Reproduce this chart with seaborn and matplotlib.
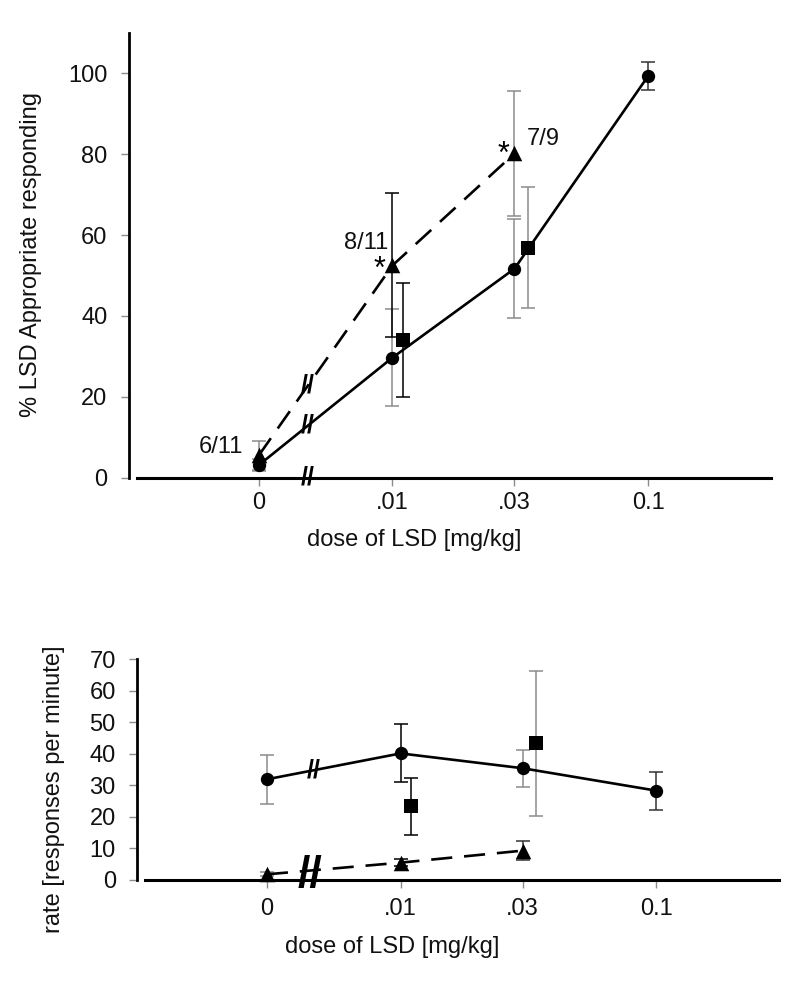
import numpy as np
import pandas as pd
import matplotlib
matplotlib.use("Agg")
import matplotlib.pyplot as plt
from matplotlib.ticker import NullLocator
import seaborn as sns

# ---------------- data ----------------
doses = [0, 0.01, 0.03, 0.1]
dose_labels = ["0", ".01", ".03", "0.1"]
tri_doses = [0, 0.01, 0.03]
sq_doses = [0.01, 0.03]

# top panel: % LSD appropriate responding
pct_circle = [3.1, 29.7, 51.7, 99.4]
pct_circle_err = [1.5, 12.0, 12.3, 3.5]
pct_tri = [5.5, 52.5, 80.2]
pct_tri_err = [3.7, 17.8, 15.5]
pct_sq = [34.1, 56.9]
pct_sq_err = [14.1, 15.0]
tri_labels = ["6/11", "8/11", "7/9"]
tri_stars = ["", "*", "*"]

# bottom panel: rate [responses per minute]
rate_circle = [31.9, 40.1, 35.4, 28.3]
rate_circle_err = [7.7, 9.2, 5.9, 6.0]
rate_tri = [1.8, 5.5, 9.3]
rate_tri_err = [0.6, 1.0, 3.0]
rate_sq = [23.4, 43.3]
rate_sq_err = [9.0, 23.0]

# ---------------- style ----------------
ZERO_POS = 0.003          # where dose 0 is drawn on the log axis
SQ_SHIFT = [1.10, 1.13]   # small horizontal offset of the square series
GRAY = "#8c8c8c"
BLACK = "#000000"

sns.set_style("white")
plt.rcParams["font.family"] = ["Liberation Sans", "DejaVu Sans"]
FS = 17


def xpos(d):
    return ZERO_POS if d == 0 else d


def draw_series(ax, dd, vals, errs, ecolors, marker, s, line=None, shift=None):
    xs = [xpos(d) * (shift[i] if shift else 1.0) for i, d in enumerate(dd)]
    df = pd.DataFrame({"x": xs, "y": vals})
    for x, y, e, c in zip(xs, vals, errs, ecolors):
        ax.errorbar([x], [y], yerr=[e], fmt="none", ecolor=c, elinewidth=1.1,
                    capsize=4.7, capthick=1.1, zorder=2, clip_on=False)
    if line is not None:
        sns.lineplot(data=df, x="x", y="y", ax=ax, color="black", lw=1.9,
                     estimator=None, sort=False, zorder=3)
        if line == "dashed":
            ax.lines[-1].set_linestyle((0, (8, 4.5)))
    sns.scatterplot(data=df, x="x", y="y", ax=ax, marker=marker, s=s,
                    color="black", linewidth=0, zorder=4, clip_on=False,
                    legend=False)
    return xs


def break_mark(ax, y0, y1, frac, size):
    lx0, lx1 = np.log10(ZERO_POS), np.log10(0.01)
    xb = 10 ** (lx0 + frac * (lx1 - lx0))
    yb = y0 + frac * (y1 - y0)
    ax.text(xb, yb, "//", ha="center", va="center", fontsize=size,
            fontweight="bold", color="black", zorder=6, clip_on=False)


def style_axis(ax, yticks, ylim, xpad, ypad):
    ax.set_xscale("log")
    ax.set_xlim(10 ** -3.03, 10 ** -0.52)
    ax.set_ylim(*ylim)
    ax.set_xticks([xpos(d) for d in doses])
    ax.set_xticklabels(dose_labels)
    ax.xaxis.set_minor_locator(NullLocator())
    ax.set_yticks(yticks)
    ax.set_yticklabels([str(v) for v in yticks])
    for side in ["top", "right"]:
        ax.spines[side].set_visible(False)
    ax.spines["left"].set_linewidth(2.0)
    ax.spines["left"].set_color("black")
    ax.spines["bottom"].set_linewidth(2.2)
    ax.spines["bottom"].set_color("black")
    ax.spines["bottom"].set_bounds(10 ** -3.0, 10 ** -0.52)
    ax.tick_params(axis="x", direction="out", length=6, width=1, color=GRAY,
                   labelsize=FS, pad=xpad, bottom=True, labelcolor="#111111")
    ax.tick_params(axis="y", direction="out", length=6, width=1, color=GRAY,
                   labelsize=FS, pad=ypad, left=True, labelcolor="#111111")
    ax.set_facecolor("white")


fig = plt.figure(figsize=(7.99, 9.82), dpi=100)
W, H = 799, 982
ax1 = fig.add_axes([129 / W, 1 - 477.7 / H, (771 - 129) / W, (477.7 - 33) / H])
ax2 = fig.add_axes([137.3 / W, 1 - 880 / H, (779 - 137.3) / W, (880 - 659) / H])

for ax in (ax1, ax2):
    ax.set_xscale("log")

# ---------------- top panel ----------------
draw_series(ax1, doses, pct_circle, pct_circle_err,
            [GRAY, GRAY, GRAY, "#333333"], "o", 92, line="solid")
txs = draw_series(ax1, tri_doses, pct_tri, pct_tri_err,
                  [GRAY, BLACK, GRAY], "^", 125, line="dashed")
draw_series(ax1, sq_doses, pct_sq, pct_sq_err, [BLACK, GRAY], "s", 88,
            shift=SQ_SHIFT)

label_off = [(-27.5, 2), (-19, 12), (20.5, 6)]
star_off = [(0, 0), (-9, -9), (-8, -6.5)]
for x, y, lab, st, lo, so in zip(txs, pct_tri, tri_labels, tri_stars,
                                 label_off, star_off):
    ax1.annotate(lab, xy=(x, y), xytext=lo, textcoords="offset points",
                 ha="center", va="baseline", fontsize=FS, color="#111111")
    if st:
        ax1.annotate(st, xy=(x, y), xytext=so, textcoords="offset points",
                     ha="center", va="baseline", fontsize=22, color="black")

style_axis(ax1, [0, 20, 40, 60, 80, 100], (0, 110), 4.5, 9.5)
ax1.set_ylabel("% LSD Appropriate responding", fontsize=FS, color="#111111")
ax1.yaxis.set_label_coords(-0.1355, 0.501)
ax1.set_xlabel("dose of LSD [mg/kg]", fontsize=FS, va="center", color="#111111")
ax1.xaxis.set_label_coords(0.444, -0.140)

break_mark(ax1, pct_circle[0], pct_circle[1], 0.37, 18)
break_mark(ax1, pct_tri[0], pct_tri[1], 0.37, 18)
break_mark(ax1, 0, 0, 0.37, 18)

# ---------------- bottom panel ----------------
draw_series(ax2, doses, rate_circle, rate_circle_err,
            [GRAY, BLACK, GRAY, "#333333"], "o", 92, line="solid")
draw_series(ax2, tri_doses, rate_tri, rate_tri_err,
            [GRAY, BLACK, "#333333"], "^", 125, line="dashed")
draw_series(ax2, sq_doses, rate_sq, rate_sq_err, [BLACK, GRAY], "s", 88,
            shift=SQ_SHIFT)

style_axis(ax2, [0, 10, 20, 30, 40, 50, 60, 70], (0, 70), 7, 9.5)
ax2.set_ylabel("rate [responses per minute]", fontsize=FS, color="#111111")
ax2.yaxis.set_label_coords(-0.1127, 0.41)
ax2.set_xlabel("dose of LSD [mg/kg]", fontsize=FS, va="center", color="#111111")
ax2.xaxis.set_label_coords(0.397, -0.305)

break_mark(ax2, rate_circle[0], rate_circle[1], 0.35, 18)
break_mark(ax2, 0.35 * (rate_tri[0] + rate_tri[1]) / 2 + 0.5, 0.5, 0.32, 32)

fig.savefig("out.png", dpi=100, facecolor="white")
